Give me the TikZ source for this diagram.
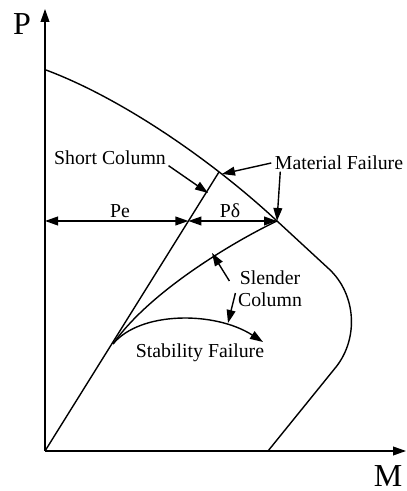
\documentclass[tikz,border=0pt]{standalone}
\usepackage{fontspec}
\setmainfont{Liberation Serif}
\usetikzlibrary{arrows.meta,positioning}

\begin{document}
\begin{tikzpicture}[x=0.5pt,y=0.5pt,line width=0.7pt,
  tip/.style={-{Triangle[length=6.5pt,width=4.4pt]}},
  dim/.style={{Triangle[length=6.5pt,width=4.4pt]}-{Triangle[length=6.5pt,width=4.4pt]}},
  lbl/.style={font=\fontsize{9.9}{10}\selectfont,inner sep=0pt},
  axlbl/.style={font=\fontsize{16}{18}\selectfont,inner sep=0pt}]
\useasboundingbox (0,0) rectangle (406,491);
% key points of the diagram
\coordinate (O) at (45,40);
\coordinate (Ptop) at (45,482);
\coordinate (Mend) at (406,40);
\coordinate (A) at (46,421);     % pure axial load
\coordinate (T) at (219,319);    % short column hits the curve
\coordinate (Q) at (277,270);    % slender column hits the curve
\coordinate (S) at (113,147);    % where the paths split
\coordinate (F) at (263,149);    % end of stability path
\coordinate (B) at (268,40);     % pure bending
\coordinate (PeL) at (45,270);
\coordinate (E) at (188.4,270);  % Pe / Pdelta split
\coordinate (scTip) at (208,298);
\coordinate (mfTip) at (222,317);
\coordinate (slTipA) at (212,238);
\coordinate (slTipB) at (228,168);

% axes
\draw[tip] (O) -- (Ptop);
\draw[tip] (O) -- (Mend);
\node[axlbl] (Plab) at (22,467) {P};
\node[axlbl] (Mlab) at (388,15) {M};

% interaction curve
\draw (A) .. controls (126,391) and (217,326) .. (Q) -- (329,222)
  .. controls (356,197) and (359,153) .. (336,124) -- (B);

% load paths
\draw (O) -- (T);
\draw (S) .. controls (150,200) and (235,250) .. (Q);
\draw[tip] (S) .. controls (140,180) and (215,180) .. (F);

% eccentricity split
\draw[dim] (PeL) -- (E);
\draw[dim] (E) -- (Q);
\node[lbl] (pe) at (120,280) {Pe};
\node[lbl] (pd) at (230,280) {Pδ};

% labels and pointers
\node[lbl] (sc) at (110,333) {Short Column};
\draw[tip] ([xshift=1pt]sc.south east) -- (scTip);
\node[lbl] (mf) at (339,328) {Material Failure};
\draw[tip] ([xshift=-1.5pt]mf.west) -- (mfTip);
\draw[tip] ([xshift=3pt,yshift=-0.5pt]mf.south west) -- (Q);
\node[lbl,align=center] (sl) at (270,202) {Slender\\[1pt]Column};
\draw[tip] ([shift={(-4pt,4pt)}]sl.west) -- (slTipA);
\draw[tip] ([shift={(-1pt,-2pt)}]sl.west) -- (slTipB);
\node[lbl] (sf) at (200,138) {Stability Failure};
\end{tikzpicture}
\end{document}
